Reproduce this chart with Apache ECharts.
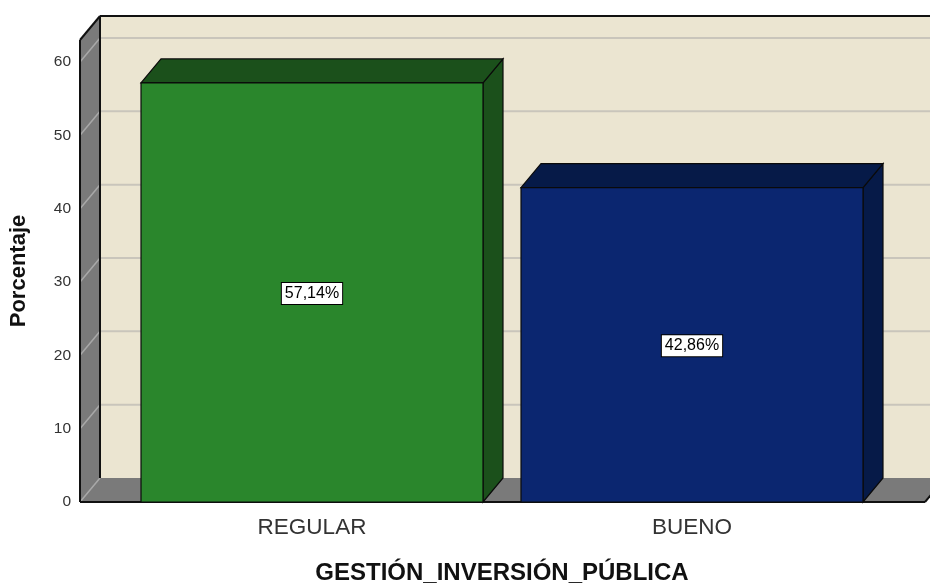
<!DOCTYPE html>
<html><head><meta charset="utf-8">
<script src="https://cdn.jsdelivr.net/npm/echarts@6/dist/echarts.min.js"></script>
<style>html,body{margin:0;padding:0;background:#fff}#c{width:930px;height:583px}</style>
</head><body><div id="c"></div>
<script>
// ---- data ----
const categories = ['REGULAR', 'BUENO'];
const values = [57.14, 42.86];
const valueLabels = ['57,14%', '42,86%'];
const yTicks = [0, 10, 20, 30, 40, 50, 60];
const yMax = 63;
const xTitle = 'GESTIÓN_INVERSIÓN_PÚBLICA';
const yTitle = 'Porcentaje';

// ---- style ----
const DX = 20, DY = -24;
const FONT = "'Liberation Sans', Arial, sans-serif";
const frontColors = ['#2a862c', '#0b2670'];
const darkColors = ['#1b501b', '#061a48'];
const WALL = '#ebe5d1', SIDE = '#7a7a7a';

const chart = echarts.init(document.getElementById('c'));

function frameRender(params, api) {
  const cs = params.coordSys;
  const x0 = cs.x - 42, x1 = cs.x + cs.width + 43;
  const yBase = api.coord([0, 0])[1];
  const yTop = api.coord([0, yMax])[1];
  const c = [];
  c.push({type: 'rect', shape: {x: x0 + DX, y: yTop + DY, width: x1 - x0 + 60, height: yBase - yTop}, style: {fill: WALL}});
  yTicks.forEach(t => {
    if (t === 0) return;
    const y = api.coord([0, t])[1] + DY;
    c.push({type: 'line', shape: {x1: x0 + DX, y1: y, x2: x1 + DX + 40, y2: y}, style: {stroke: '#c9c5bb', lineWidth: 2}});
  });
  c.push({type: 'polygon', shape: {points: [[x0, yBase], [x0, yTop], [x0 + DX, yTop + DY], [x0 + DX, yBase + DY]]}, style: {fill: SIDE}});
  c.push({type: 'polygon', shape: {points: [[x0, yBase], [x1, yBase], [x1 + DX, yBase + DY], [x0 + DX, yBase + DY]]}, style: {fill: SIDE}});
  yTicks.forEach(t => {
    const y = api.coord([0, t])[1];
    c.push({type: 'line', shape: {x1: x0, y1: y, x2: x0 + DX, y2: y + DY}, style: {stroke: '#a8a8a8', lineWidth: 1.5}});
  });
  const edge = {stroke: '#111', lineWidth: 2};
  c.push({type: 'line', shape: {x1: x0, y1: yTop, x2: x0, y2: yBase}, style: edge});
  c.push({type: 'line', shape: {x1: x0 + DX, y1: yTop + DY, x2: x0 + DX, y2: yBase + DY}, style: edge});
  c.push({type: 'line', shape: {x1: x0, y1: yTop, x2: x0 + DX, y2: yTop + DY}, style: edge});
  c.push({type: 'line', shape: {x1: x0 + DX, y1: yTop + DY, x2: x1 + 80, y2: yTop + DY}, style: edge});
  c.push({type: 'line', shape: {x1: x0, y1: yBase, x2: x1, y2: yBase}, style: edge});
  c.push({type: 'line', shape: {x1: x1, y1: yBase, x2: x1 + DX, y2: yBase + DY}, style: edge});
  return {type: 'group', children: c};
}

function barRender(params, api) {
  const i = api.value(0), v = api.value(1);
  const idx = params.dataIndex;
  const p0 = api.coord([i, 0]);
  const p1 = api.coord([i, v]);
  const w = api.size([1, 0])[0] * 0.9;
  const xl = p0[0] - w / 2, xr = p0[0] + w / 2, yb = p0[1], yt = p1[1];
  const yc = api.coord([i, v / 2])[1];
  const line = {stroke: '#0a0a0a', lineWidth: 1.2};
  return {type: 'group', children: [
    {type: 'polygon', shape: {points: [[xr, yt], [xr + DX, yt + DY], [xr + DX, yb + DY], [xr, yb]]}, style: Object.assign({fill: darkColors[idx]}, line)},
    {type: 'polygon', shape: {points: [[xl, yt], [xl + DX, yt + DY], [xr + DX, yt + DY], [xr, yt]]}, style: Object.assign({fill: darkColors[idx]}, line)},
    {type: 'rect', shape: {x: xl, y: yt, width: w, height: yb - yt}, style: Object.assign({fill: frontColors[idx]}, line)},
    {type: 'text', x: p0[0], y: yc + 1, style: {
      text: valueLabels[idx], align: 'center', verticalAlign: 'middle',
      fontFamily: FONT, fontSize: 16, fill: '#000',
      backgroundColor: '#fff', borderColor: '#000', borderWidth: 1, padding: [3, 3, 2, 3]
    }}
  ]};
}

chart.setOption({
  backgroundColor: '#fff',
  animation: false,
  grid: {left: 122, right: 48, top: 40, bottom: 81, containLabel: false, outerBoundsMode: 'none'},
  xAxis: {
    type: 'category', data: categories,
    axisLine: {show: false}, axisTick: {show: false},
    axisLabel: {fontFamily: FONT, fontSize: 22.5, color: '#333', margin: 14},
    name: xTitle, nameLocation: 'middle', nameGap: 59,
    nameTextStyle: {fontFamily: FONT, fontSize: 24, fontWeight: 'bold', color: '#111'}
  },
  yAxis: {
    type: 'value', min: 0, max: yMax, interval: 10, offset: 42,
    axisLine: {show: false}, axisTick: {show: false}, splitLine: {show: false},
    axisLabel: {fontFamily: FONT, fontSize: 15.5, color: '#333', margin: 9, showMaxLabel: false,
      formatter: v => (yTicks.indexOf(v) >= 0 ? String(v) : '')},
    name: yTitle, nameLocation: 'middle', nameGap: 50, nameRotate: 90,
    nameTextStyle: {fontFamily: FONT, fontSize: 22, fontWeight: 'bold', color: '#111'}
  },
  series: [
    {type: 'custom', renderItem: frameRender, data: [[0, 0]], z: 1, silent: true, clip: false},
    {type: 'custom', renderItem: barRender, data: values.map((v, i) => [i, v]), z: 2, clip: false}
  ]
});
</script></body></html>
